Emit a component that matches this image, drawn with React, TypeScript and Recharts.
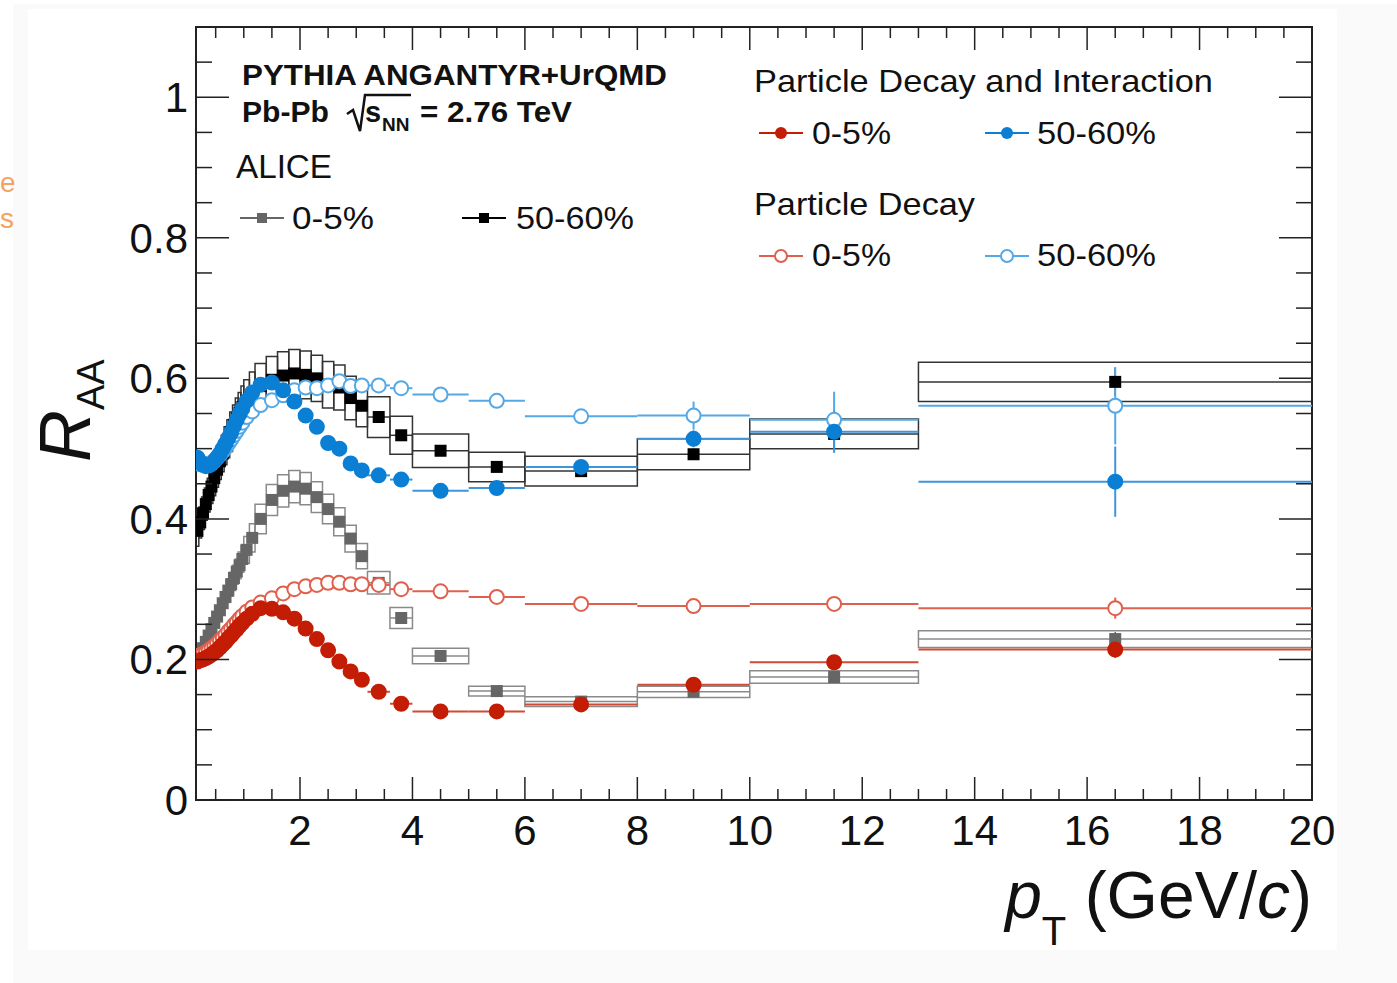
import React from "react";
import { ComposedChart, Scatter, XAxis, YAxis, ErrorBar, ReferenceArea } from "recharts";

// pT bin centres and half widths (GeV/c)
const ptBins = [
  0.175, 0.225, 0.275, 0.325, 0.375, 0.425, 0.475, 0.525, 0.575, 0.625, 0.675, 0.725, 0.775, 0.825, 0.875, 0.925, 0.975,
  1.05, 1.15, 1.3, 1.5, 1.7, 1.9, 2.1, 2.3, 2.5, 2.7, 2.9, 3.1, 3.4, 3.8, 4.5, 5.5, 7, 9, 11.5, 16.5,
];
const ptHalf = [
  0.025, 0.025, 0.025, 0.025, 0.025, 0.025, 0.025, 0.025, 0.025, 0.025, 0.025, 0.025, 0.025, 0.025, 0.025, 0.025, 0.025,
  0.05, 0.05, 0.1, 0.1, 0.1, 0.1, 0.1, 0.1, 0.1, 0.1, 0.1, 0.1, 0.2, 0.2, 0.5, 0.5, 1, 1, 1.5, 3.5,
];

// ALICE 0-5%
const alice05 = [
  0.2, 0.208, 0.216, 0.225, 0.234, 0.243, 0.252, 0.261, 0.27, 0.28, 0.289, 0.298, 0.307, 0.316, 0.325, 0.334, 0.343,
  0.356, 0.373, 0.4, 0.427, 0.44, 0.446, 0.443, 0.431, 0.414, 0.396, 0.372, 0.347, 0.309, 0.259, 0.205, 0.155, 0.14, 0.154, 0.175, 0.229,
];
const alice05Sys = [
  0.012, 0.012, 0.012, 0.013, 0.013, 0.014, 0.014, 0.015, 0.015, 0.016, 0.016, 0.017, 0.017, 0.018, 0.018, 0.019, 0.019,
  0.019, 0.02, 0.021, 0.022, 0.023, 0.023, 0.023, 0.022, 0.021, 0.02, 0.019, 0.018, 0.016, 0.015, 0.011, 0.007, 0.007, 0.008, 0.009, 0.012,
];
const alice05Stat = [
  0.002, 0.002, 0.002, 0.002, 0.002, 0.002, 0.002, 0.002, 0.002, 0.002, 0.002, 0.002, 0.002, 0.002, 0.002, 0.002, 0.002,
  0.002, 0.002, 0.002, 0.002, 0.002, 0.002, 0.002, 0.002, 0.002, 0.002, 0.002, 0.002, 0.002, 0.002, 0.002, 0.003, 0.003, 0.004, 0.006, 0.01,
];

// ALICE 50-60%
const alice5060 = [
  0.383, 0.395, 0.408, 0.421, 0.434, 0.446, 0.458, 0.47, 0.482, 0.493, 0.504, 0.514, 0.524, 0.534, 0.543, 0.551, 0.559,
  0.568, 0.578, 0.589, 0.598, 0.604, 0.607, 0.605, 0.6, 0.591, 0.587, 0.572, 0.561, 0.545, 0.519, 0.497, 0.474, 0.468, 0.492, 0.521, 0.595,
];
const alice5060Sys = [
  0.022, 0.022, 0.023, 0.023, 0.024, 0.024, 0.025, 0.025, 0.026, 0.026, 0.027, 0.027, 0.028, 0.028, 0.029, 0.029, 0.03,
  0.03, 0.031, 0.032, 0.033, 0.034, 0.034, 0.034, 0.033, 0.033, 0.032, 0.031, 0.03, 0.029, 0.027, 0.024, 0.021, 0.021, 0.022, 0.021, 0.028,
];
const alice5060Stat = [
  0.003, 0.003, 0.003, 0.003, 0.003, 0.003, 0.003, 0.003, 0.003, 0.003, 0.003, 0.003, 0.003, 0.003, 0.003, 0.003, 0.003,
  0.003, 0.003, 0.003, 0.003, 0.003, 0.003, 0.003, 0.003, 0.003, 0.003, 0.003, 0.003, 0.003, 0.004, 0.004, 0.005, 0.006, 0.008, 0.012, 0.02,
];

// Particle Decay and Interaction (filled)
const pdi05 = [
  0.197, 0.199, 0.2, 0.202, 0.204, 0.207, 0.21, 0.213, 0.217, 0.221, 0.225, 0.23, 0.234, 0.239, 0.243, 0.248, 0.252,
  0.258, 0.265, 0.273, 0.272, 0.267, 0.258, 0.244, 0.229, 0.213, 0.197, 0.183, 0.171, 0.154, 0.137, 0.126, 0.126, 0.136, 0.164, 0.196, 0.214,
];
const pdi05Stat = [
  0.001, 0.001, 0.001, 0.001, 0.001, 0.001, 0.001, 0.001, 0.001, 0.001, 0.001, 0.001, 0.001, 0.001, 0.001, 0.001, 0.001,
  0.001, 0.001, 0.001, 0.001, 0.001, 0.001, 0.001, 0.001, 0.001, 0.001, 0.001, 0.001, 0.002, 0.002, 0.002, 0.002, 0.003, 0.005, 0.007, 0.012,
];
const pdi5060 = [
  0.487, 0.481, 0.477, 0.475, 0.476, 0.478, 0.482, 0.487, 0.493, 0.5, 0.507, 0.515, 0.523, 0.532, 0.541, 0.549, 0.557,
  0.568, 0.58, 0.591, 0.594, 0.583, 0.567, 0.547, 0.531, 0.508, 0.5, 0.479, 0.469, 0.462, 0.456, 0.44, 0.444, 0.474, 0.514, 0.524, 0.453,
];
const pdi5060Stat = [
  0.002, 0.002, 0.002, 0.002, 0.002, 0.002, 0.002, 0.002, 0.002, 0.002, 0.002, 0.002, 0.002, 0.002, 0.002, 0.002, 0.002,
  0.002, 0.002, 0.002, 0.002, 0.002, 0.002, 0.002, 0.002, 0.002, 0.002, 0.002, 0.002, 0.003, 0.003, 0.004, 0.005, 0.007, 0.012, 0.03, 0.05,
];

// Particle Decay (open)
const pd05 = [
  0.205, 0.206, 0.208, 0.21, 0.213, 0.216, 0.219, 0.223, 0.227, 0.231, 0.235, 0.24, 0.244, 0.249, 0.253, 0.258, 0.262,
  0.268, 0.274, 0.281, 0.287, 0.294, 0.3, 0.304, 0.306, 0.309, 0.309, 0.307, 0.307, 0.306, 0.3, 0.297, 0.289, 0.279, 0.276, 0.279, 0.273,
];
const pd05Stat = [
  0.001, 0.001, 0.001, 0.001, 0.001, 0.001, 0.001, 0.001, 0.001, 0.001, 0.001, 0.001, 0.001, 0.001, 0.001, 0.001, 0.001,
  0.001, 0.001, 0.001, 0.001, 0.001, 0.001, 0.001, 0.001, 0.001, 0.001, 0.001, 0.001, 0.002, 0.002, 0.002, 0.003, 0.004, 0.006, 0.009, 0.015,
];
const pd5060 = [
  0.48, 0.478, 0.477, 0.477, 0.478, 0.48, 0.483, 0.487, 0.491, 0.496, 0.501, 0.507, 0.513, 0.519, 0.525, 0.531, 0.537,
  0.545, 0.553, 0.562, 0.569, 0.576, 0.583, 0.587, 0.586, 0.59, 0.596, 0.589, 0.59, 0.59, 0.586, 0.577, 0.568, 0.546, 0.547, 0.541, 0.561,
];
const pd5060Stat = [
  0.002, 0.002, 0.002, 0.002, 0.002, 0.002, 0.002, 0.002, 0.002, 0.002, 0.002, 0.002, 0.002, 0.002, 0.002, 0.002, 0.002,
  0.002, 0.002, 0.002, 0.002, 0.002, 0.002, 0.002, 0.002, 0.002, 0.002, 0.002, 0.002, 0.003, 0.003, 0.004, 0.006, 0.009, 0.02, 0.04, 0.055,
];

const xTicks = [
  0.5, 1, 1.5, 2, 2.5, 3, 3.5, 4, 4.5, 5, 5.5, 6, 6.5, 7, 7.5, 8, 8.5, 9, 9.5, 10,
  10.5, 11, 11.5, 12, 12.5, 13, 13.5, 14, 14.5, 15, 15.5, 16, 16.5, 17, 17.5, 18, 18.5, 19, 19.5, 20,
];
const xLabels = [2, 4, 6, 8, 10, 12, 14, 16, 18, 20];
const yTicks = [
  0, 0.05, 0.1, 0.15, 0.2, 0.25, 0.3, 0.35, 0.4, 0.45, 0.5, 0.55, 0.6, 0.65, 0.7, 0.75, 0.8, 0.85, 0.9, 0.95, 1, 1.05, 1.1,
];
const yLabels = [0, 0.2, 0.4, 0.6, 0.8, 1];

const PLOT_W = 1116;
const PLOT_H = 773;
const FONT = "'Liberation Sans', Arial, Helvetica, sans-serif";

const toPoints = (vals: number[], stat: number[]) =>
  ptBins.map((x, i) => ({ x, y: vals[i], xe: ptHalf[i], ye: stat[i] }));

const XTick = (props: any) => {
  const { x, y, payload } = props;
  const v = payload.value;
  const major = xLabels.includes(v);
  const len = major ? 23 : 11;
  return (
    <g>
      <line x1={x} y1={y} x2={x} y2={y - len} stroke="#222" strokeWidth={1.5} />
      <line x1={x} y1={y - PLOT_H} x2={x} y2={y - PLOT_H + len} stroke="#222" strokeWidth={1.5} />
      {major && (
        <text x={x} y={y + 45} textAnchor="middle" fontSize={42} fontFamily={FONT} fill="#111">{v}</text>
      )}
    </g>
  );
};

const YTick = (props: any) => {
  const { x, y, payload } = props;
  const v = payload.value;
  const major = yLabels.some((l) => Math.abs(l - v) < 1e-6);
  const len = major ? 33 : 16;
  return (
    <g>
      <line x1={x} y1={y} x2={x + len} y2={y} stroke="#222" strokeWidth={1.5} />
      <line x1={x + PLOT_W} y1={y} x2={x + PLOT_W - len} y2={y} stroke="#222" strokeWidth={1.5} />
      {major && (
        <text x={x - 8} y={y + 15} textAnchor="end" fontSize={42} fontFamily={FONT} fill="#111">
          {v === 0 ? "0" : v === 1 ? "1" : v.toFixed(1)}
        </text>
      )}
    </g>
  );
};

const circle = (fill: string, stroke: string) => (p: any) =>
  <circle cx={p.cx} cy={p.cy} r={7} fill={fill} stroke={stroke} strokeWidth={2} />;
const square = (fill: string) => (p: any) =>
  <rect x={p.cx - 6} y={p.cy - 6} width={12} height={12} fill={fill} />;

const RED = "#c41d05";
const RED_OPEN = "#e0604e";
const BLUE = "#0a7fd4";
const BLUE_OPEN = "#55a8e6";

const LegendMark = ({ x, y, color, kind }: { x: number; y: number; color: string; kind: string }) => (
  <g>
    <line x1={x - 22} y1={y} x2={x + 22} y2={y} stroke={color} strokeWidth={2} />
    {kind === "square" && <rect x={x - 5} y={y - 5} width={10} height={10} fill={color} />}
    {kind === "dot" && <circle cx={x} cy={y} r={6} fill={color} />}
    {kind === "open" && <circle cx={x} cy={y} r={6} fill="#fff" stroke={color} strokeWidth={2} />}
  </g>
);

export default function App() {
  const aliceC = toPoints(alice05, alice05Stat);
  const aliceP = toPoints(alice5060, alice5060Stat);
  return (
    <div style={{ position: "absolute", left: 0, top: 0, width: 1397, height: 983, background: "#fff", overflow: "hidden" }}>
      <div style={{ position: "absolute", left: 13, top: 4, right: 0, bottom: 0, background: "#fafafa" }} />
      <div style={{ position: "absolute", left: 28, top: 9, width: 1309, height: 941, background: "#fff" }} />
      <div style={{ position: "absolute", left: 0, top: 0 }}>
        <ComposedChart width={1397} height={983} margin={{ top: 27, right: 85, bottom: 153, left: 136 }}>
          <XAxis dataKey="x" type="number" domain={[0.15, 20]} allowDataOverflow ticks={xTicks} interval={0}
            tick={<XTick />} tickLine={false} axisLine={false} tickSize={0} tickMargin={0} height={30} />
          <YAxis dataKey="y" type="number" domain={[0, 1.1]} allowDataOverflow ticks={yTicks} interval={0}
            tick={<YTick />} tickLine={false} axisLine={false} tickSize={0} tickMargin={0} width={60} />
          {aliceC.map((d, i) => (
            <ReferenceArea key={"bc" + i} x1={d.x - d.xe} x2={d.x + d.xe} y1={d.y - alice05Sys[i]} y2={d.y + alice05Sys[i]}
              fill="none" stroke="#8a8a8a" strokeWidth={1.5} ifOverflow="visible" />
          ))}
          {aliceP.map((d, i) => (
            <ReferenceArea key={"bp" + i} x1={d.x - d.xe} x2={d.x + d.xe} y1={d.y - alice5060Sys[i]} y2={d.y + alice5060Sys[i]}
              fill="none" stroke="#333" strokeWidth={1.5} ifOverflow="visible" />
          ))}
          <Scatter data={aliceC} dataKey="y" shape={square("#666")} isAnimationActive={false}>
            <ErrorBar dataKey="xe" direction="x" width={0} stroke="#8a8a8a" strokeWidth={1.5} />
            <ErrorBar dataKey="ye" direction="y" width={0} stroke="#666" strokeWidth={1.5} />
          </Scatter>
          <Scatter data={aliceP} dataKey="y" shape={square("#000")} isAnimationActive={false}>
            <ErrorBar dataKey="xe" direction="x" width={0} stroke="#333" strokeWidth={1.5} />
            <ErrorBar dataKey="ye" direction="y" width={0} stroke="#000" strokeWidth={1.5} />
          </Scatter>
          <Scatter data={toPoints(pd05, pd05Stat)} dataKey="y" shape={circle("#fff", RED_OPEN)} isAnimationActive={false}>
            <ErrorBar dataKey="xe" direction="x" width={0} stroke={RED_OPEN} strokeWidth={2} />
            <ErrorBar dataKey="ye" direction="y" width={0} stroke={RED_OPEN} strokeWidth={2} />
          </Scatter>
          <Scatter data={toPoints(pd5060, pd5060Stat)} dataKey="y" shape={circle("#fff", BLUE_OPEN)} isAnimationActive={false}>
            <ErrorBar dataKey="xe" direction="x" width={0} stroke={BLUE_OPEN} strokeWidth={2} />
            <ErrorBar dataKey="ye" direction="y" width={0} stroke={BLUE_OPEN} strokeWidth={2} />
          </Scatter>
          <Scatter data={toPoints(pdi05, pdi05Stat)} dataKey="y" shape={circle(RED, RED)} isAnimationActive={false}>
            <ErrorBar dataKey="xe" direction="x" width={0} stroke="#d04a35" strokeWidth={2} />
            <ErrorBar dataKey="ye" direction="y" width={0} stroke="#d04a35" strokeWidth={2} />
          </Scatter>
          <Scatter data={toPoints(pdi5060, pdi5060Stat)} dataKey="y" shape={circle(BLUE, BLUE)} isAnimationActive={false}>
            <ErrorBar dataKey="xe" direction="x" width={0} stroke="#3d95dc" strokeWidth={2} />
            <ErrorBar dataKey="ye" direction="y" width={0} stroke="#3d95dc" strokeWidth={2} />
          </Scatter>
          <ReferenceArea x1={0.15} x2={20} y1={0} y2={1.1} fill="none" stroke="#222" strokeWidth={2} ifOverflow="visible" />
        </ComposedChart>
      </div>
      <svg width={1397} height={983} style={{ position: "absolute", left: 0, top: 0, pointerEvents: "none" }} fontFamily={FONT} fill="#111">
        <text x={0} y={192} fontSize={28} fill="#f5a25d">e</text>
        <text x={0} y={228} fontSize={28} fill="#f5a25d">s</text>

        <text x={242} y={85} fontSize={29} fontWeight="bold" textLength={425} lengthAdjust="spacingAndGlyphs">PYTHIA ANGANTYR+UrQMD</text>
        <text x={242} y={122} fontSize={29} fontWeight="bold" textLength={87} lengthAdjust="spacingAndGlyphs">Pb-Pb</text>
        <path d="M347 114 L353 110 L360 131 L365 95 L411 95" stroke="#111" strokeWidth={2.5} fill="none" />
        <text x={365} y={122} fontSize={29} fontWeight="bold">s</text>
        <text x={382} y={131} fontSize={19} fontWeight="bold">NN</text>
        <text x={420} y={122} fontSize={29} fontWeight="bold" textLength={152} lengthAdjust="spacingAndGlyphs">= 2.76 TeV</text>

        <text x={236} y={178} fontSize={33} textLength={96} lengthAdjust="spacingAndGlyphs">ALICE</text>
        <LegendMark x={262} y={218} color="#666" kind="square" />
        <text x={292} y={229} fontSize={32} textLength={82} lengthAdjust="spacingAndGlyphs">0-5%</text>
        <LegendMark x={484} y={218} color="#000" kind="square" />
        <text x={516} y={229} fontSize={32} textLength={118} lengthAdjust="spacingAndGlyphs">50-60%</text>

        <text x={754} y={92} fontSize={32} textLength={459} lengthAdjust="spacingAndGlyphs">Particle Decay and Interaction</text>
        <LegendMark x={781} y={133} color={RED} kind="dot" />
        <text x={812} y={144} fontSize={32} textLength={79} lengthAdjust="spacingAndGlyphs">0-5%</text>
        <LegendMark x={1007} y={133} color={BLUE} kind="dot" />
        <text x={1037} y={144} fontSize={32} textLength={119} lengthAdjust="spacingAndGlyphs">50-60%</text>

        <text x={754} y={215} fontSize={32} textLength={221} lengthAdjust="spacingAndGlyphs">Particle Decay</text>
        <LegendMark x={781} y={256} color={RED_OPEN} kind="open" />
        <text x={812} y={266} fontSize={32} textLength={79} lengthAdjust="spacingAndGlyphs">0-5%</text>
        <LegendMark x={1007} y={256} color={BLUE_OPEN} kind="open" />
        <text x={1037} y={266} fontSize={32} textLength={119} lengthAdjust="spacingAndGlyphs">50-60%</text>

        <text transform="translate(90,462) rotate(-90)" fontSize={72}>
          <tspan fontStyle="italic">R</tspan>
          <tspan fontSize={38} dy={14}>AA</tspan>
        </text>

        <text x={1312} y={918} fontSize={66} textAnchor="end">
          <tspan fontStyle="italic">p</tspan>
          <tspan fontSize={40} dy={27}>T</tspan>
          <tspan dy={-27}> (GeV/</tspan>
          <tspan fontStyle="italic">c</tspan>
          <tspan>)</tspan>
        </text>
      </svg>
    </div>
  );
}
